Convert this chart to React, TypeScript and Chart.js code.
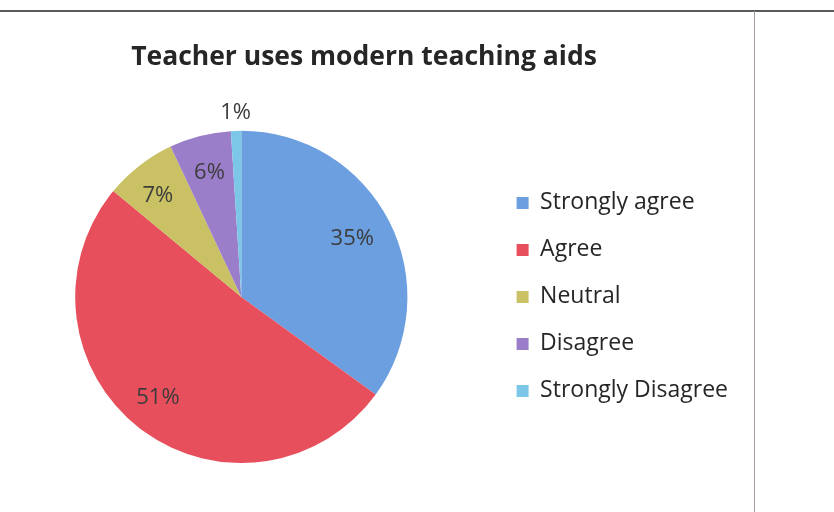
import React, { useEffect, useRef } from "react";
import { Chart, registerables } from "chart.js";

Chart.register(...registerables);

const titleText = "Teacher uses modern teaching aids";
const categories = ["Strongly agree", "Agree", "Neutral", "Disagree", "Strongly Disagree"];
const values = [35, 51, 7, 6, 1];
const colors = ["#6c9fe0", "#e84f5c", "#c9c164", "#9b7ec9", "#7cc6e8"];

const FONT = "'Open Sans', sans-serif";

const labelPlugin = {
  id: "sliceLabels",
  afterDatasetsDraw(chart: any) {
    const meta = chart.getDatasetMeta(0);
    const ds = chart.data.datasets[0];
    const total = (ds.data as number[]).reduce((a: number, b: number) => a + b, 0);
    const ctx = chart.ctx;
    ctx.save();
    ctx.font = `22px ${FONT}`;
    ctx.fillStyle = "#3c3c3c";
    ctx.textAlign = "center";
    ctx.textBaseline = "middle";
    meta.data.forEach((arc: any, i: number) => {
      const p = arc.getProps(["x", "y", "startAngle", "endAngle", "outerRadius"], true);
      const v = ds.data[i] as number;
      const pct = Math.round((v / total) * 100);
      const mid = (p.startAngle + p.endAngle) / 2;
      const r = pct < 3 ? p.outerRadius + 18 : p.outerRadius * 0.77;
      ctx.fillText(`${pct}%`, p.x + Math.cos(mid) * r - (i === 0 ? 3 : i === 1 || i === 2 ? 5 : 0), p.y + Math.sin(mid) * r);
    });
    ctx.restore();
  },
};

export default function App() {
  const ref = useRef<HTMLCanvasElement>(null);
  useEffect(() => {
    if (!ref.current) return;
    const chart = new Chart(ref.current, {
      type: "pie",
      data: {
        labels: categories,
        datasets: [{ data: values, backgroundColor: colors, borderWidth: 0 }],
      },
      options: {
        animation: false,
        responsive: false,
        layout: { padding: { left: 0, right: 16, top: 0, bottom: 49 } },
        plugins: {
          title: {
            display: true,
            text: titleText,
            color: "#262626",
            font: { family: FONT, size: 26.5, weight: "bold" },
            padding: { top: 30, bottom: 57 },
          },
          legend: {
            position: "right",
            fullSize: false,
            labels: {
              boxWidth: 12,
              boxHeight: 12,
              padding: 24,
              color: "#262626",
              font: { family: FONT, size: 23 },
            },
          },
          tooltip: { enabled: false },
        },
      },
      plugins: [labelPlugin],
    });
    return () => chart.destroy();
  }, []);
  return (
    <div style={{ position: "fixed", left: 0, top: 0, width: 834, height: 512, background: "#fff", overflow: "hidden" }}>
      <div style={{ position: "absolute", left: 0, top: 10, width: 834, height: 2, background: "#5a5a5a" }} />
      <div style={{ position: "absolute", left: 754, top: 11, width: 1, height: 501, background: "#a89a9c" }} />
      <canvas ref={ref} width={764} height={500} style={{ position: "absolute", left: -10, top: 12 }} />
    </div>
  );
}
